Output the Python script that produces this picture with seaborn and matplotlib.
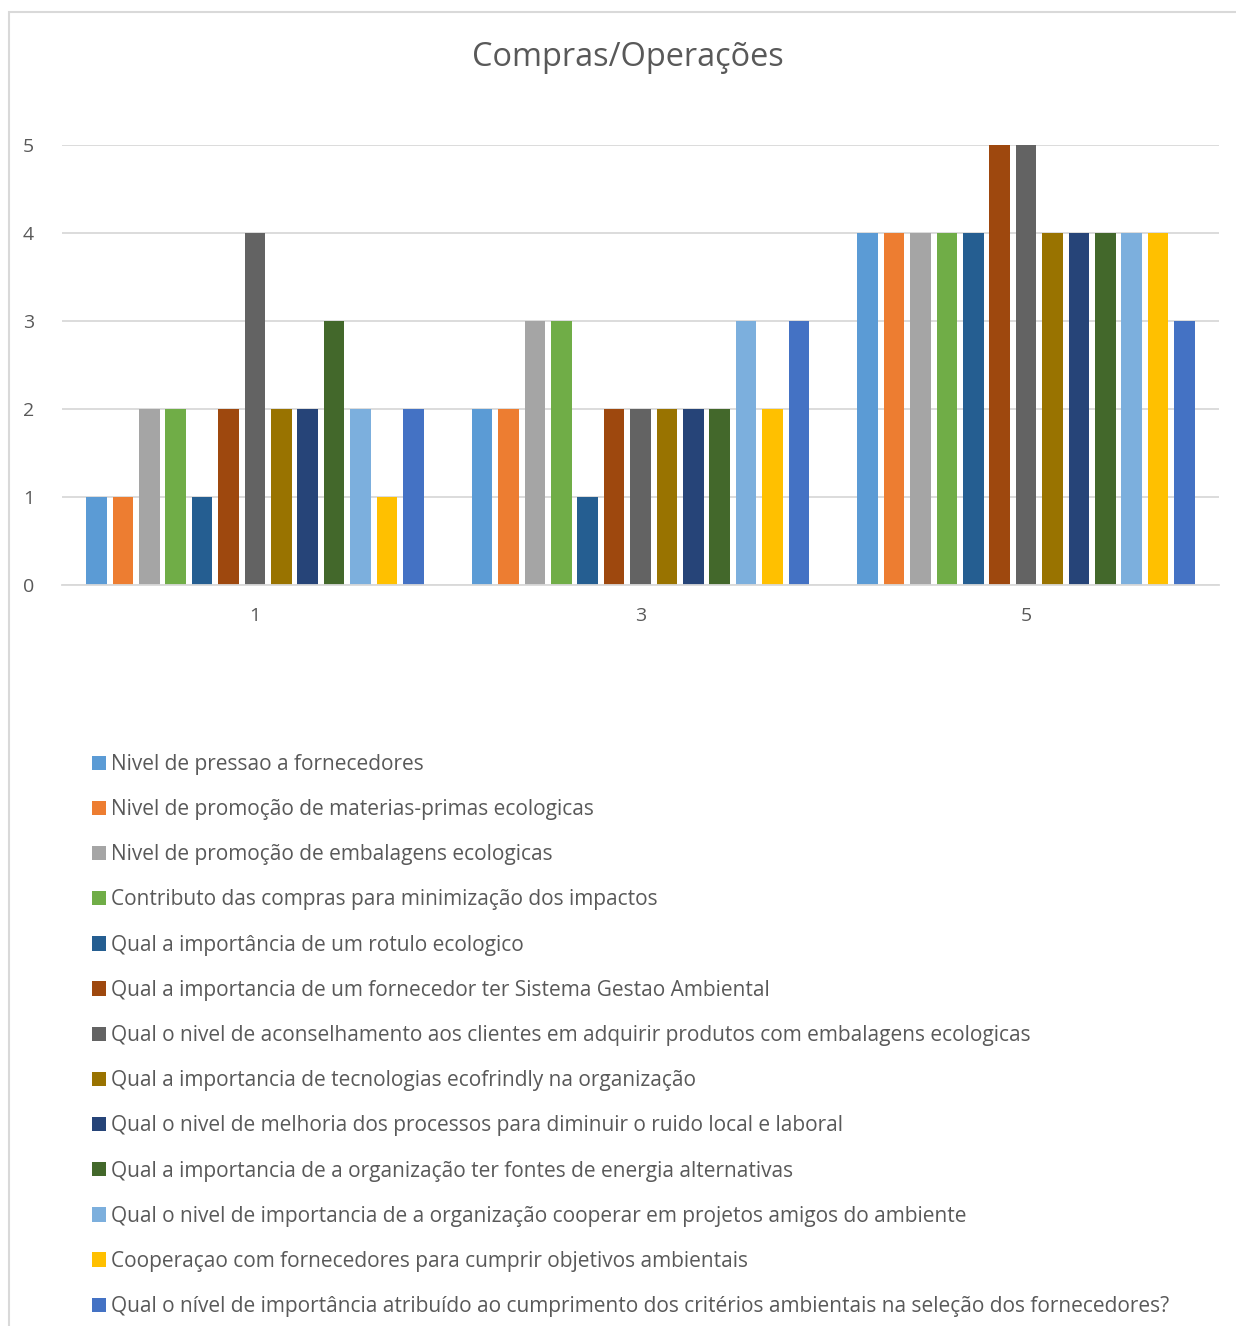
import matplotlib
matplotlib.use("Agg")
import matplotlib.pyplot as plt
import matplotlib.patches as mpatches
import seaborn as sns
import pandas as pd

categories = ["1", "3", "5"]
series_names = [
    "Nivel de pressao a fornecedores",
    "Nivel de promoção de materias-primas ecologicas",
    "Nivel de promoção de embalagens ecologicas",
    "Contributo das compras para minimização dos impactos",
    "Qual a importância de um rotulo ecologico",
    "Qual a importancia de um fornecedor ter Sistema Gestao Ambiental",
    "Qual o nivel de aconselhamento aos clientes em adquirir produtos com embalagens ecologicas",
    "Qual a importancia de tecnologias ecofrindly na organização",
    "Qual o nivel de melhoria dos processos para diminuir o ruido local e laboral",
    "Qual a importancia de a organização ter fontes de energia alternativas",
    "Qual o nivel de importancia de a organização cooperar em projetos amigos do ambiente",
    "Cooperaçao com fornecedores para cumprir objetivos ambientais",
    "Qual o nível de importância atribuído ao cumprimento dos critérios ambientais na seleção dos fornecedores?",
]
values_1 = [1, 1, 2, 2, 1, 2, 4, 2, 2, 3, 2, 1, 2]
values_3 = [2, 2, 3, 3, 1, 2, 2, 2, 2, 2, 3, 2, 3]
values_5 = [4, 4, 4, 4, 4, 5, 5, 4, 4, 4, 4, 4, 3]
colors = ["#5B9BD5", "#ED7D31", "#A5A5A5", "#70AD47", "#255E91", "#9E480E",
          "#636363", "#997300", "#264478", "#43682B", "#7CAFDD", "#FFC000", "#4472C4"]
title = "Compras/Operações"

rows = []
for cat, vals in zip(categories, [values_1, values_3, values_5]):
    for name, v in zip(series_names, vals):
        rows.append({"cat": cat, "series": name, "value": v})
df = pd.DataFrame(rows)

sns.set_theme(style="white")
plt.rcParams["font.family"] = ["Open Sans", "DejaVu Sans"]
text_color = "#595959"

fig = plt.figure(figsize=(12.36, 13.26), dpi=100)
W, H = 1236, 1326
ax = fig.add_axes([62 / W, 1 - 585 / H, (1219 - 62) / W, (585 - 145) / H])

sns.barplot(data=df, x="cat", y="value", hue="series", order=categories,
            hue_order=series_names, palette=colors, width=0.89, gap=0.22,
            saturation=1, ax=ax, legend=False, errorbar=None, linewidth=0)

ax.set_ylim(0, 5)
ax.set_yticks([0, 1, 2, 3, 4, 5])
ax.yaxis.grid(True, color="#D9D9D9", linewidth=1.3)
ax.set_axisbelow(True)
for s in ["top", "right", "left"]:
    ax.spines[s].set_visible(False)
ax.spines["bottom"].set_color("#D9D9D9")
ax.spines["bottom"].set_linewidth(1.3)
ax.tick_params(axis="both", length=0, labelsize=14, colors=text_color)
ax.tick_params(axis="y", pad=20)
ax.tick_params(axis="x", pad=16)
ax.set_xlabel("")
ax.set_ylabel("")

fig.text(628 / W, 1 - 57 / H, title, ha="center", va="center", fontsize=23.4, color=text_color)

# chart border
fig.patches.append(mpatches.Rectangle((9 / W, -0.1), 1.2, 1 - 12 / H + 0.1, transform=fig.transFigure,
                                      fill=False, edgecolor="#D9D9D9", linewidth=1.5))

handles = [mpatches.Patch(color=c, linewidth=0) for c in colors]
leg = fig.legend(handles, series_names, loc="upper left",
                 bbox_to_anchor=(92 / W, 1 - 754 / H), frameon=False,
                 fontsize=15, handlelength=0.68, handleheight=0.68, handletextpad=0.25,
                 labelspacing=1.16, borderaxespad=0, borderpad=0)
for t in leg.get_texts():
    t.set_color(text_color)

fig.savefig("out.png", dpi=100)
